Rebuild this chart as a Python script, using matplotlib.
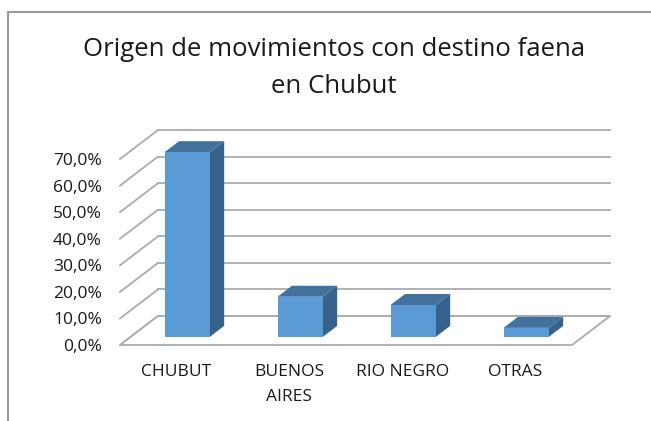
import matplotlib
matplotlib.use("Agg")
import matplotlib.pyplot as plt
from matplotlib.patches import Rectangle, Polygon
from matplotlib.lines import Line2D
from matplotlib.ticker import FuncFormatter

categories = ["CHUBUT", "BUENOS\nAIRES", "RIO NEGRO", "OTRAS"]
shares = [69.5, 15.1, 12.0, 3.4]  # percent
y_ticks = [0, 10, 20, 30, 40, 50, 60, 70]
title_lines = ["Origen de movimientos con destino faena", "en Chubut"]

plt.rcParams['font.family'] = ['Open Sans', 'DejaVu Sans']

W, H = 651, 421
fig = plt.figure(figsize=(W / 100, H / 100), dpi=100)

# chart frame (Excel-like), only top and left edges visible
fig.add_artist(Line2D([8 / W, 8 / W], [0, 1 - 12 / H], transform=fig.transFigure,
                      color="#9a9a9a", lw=1.5))
fig.add_artist(Line2D([8 / W, 1], [1 - 12 / H, 1 - 12 / H], transform=fig.transFigure,
                      color="#9a9a9a", lw=1.5))

# title, two lines placed by baseline
fig.text(334 / W, 1 - 56 / H, title_lines[0], ha="center", va="baseline",
         fontsize=18.5, color="#1a1a1a")
fig.text(334 / W, 1 - 93 / H, title_lines[1], ha="center", va="baseline",
         fontsize=18.5, color="#1a1a1a")

# axes = front face of the floor/left wall
left, right, bottom, top = 120, 572, 345, 159
ax = fig.add_axes([left / W, 1 - bottom / H, (right - left) / W, (bottom - top) / H])
ax.set_xlim(0, len(categories))
ax.set_ylim(0, 70)
for s in ax.spines.values():
    s.set_visible(False)

# oblique depth offset in data units
DX = 38 / 113
DY = 10.9
grid_c = "#ababab"
n = len(categories)

# back wall + left wall gridlines
for v in y_ticks:
    ax.plot([DX, n + DX], [v + DY, v + DY], color=grid_c, lw=1.3, clip_on=False, zorder=1)
    ax.plot([0, DX], [v, v + DY], color=grid_c, lw=1.3, clip_on=False, zorder=1)

# floor
floor = Polygon([(0, 0), (n, 0), (n + DX, DY), (DX, DY)], closed=True,
                facecolor="white", edgecolor=grid_c, lw=1.3, clip_on=False, zorder=1)
ax.add_patch(floor)

# 3D bars
w = 0.4
f0, fd = 0.28, 0.38
for i, v in enumerate(shares):
    x0 = i + 0.5 - w / 2 + f0 * DX
    y0 = f0 * DY
    ox, oy = fd * DX, fd * DY
    side = Polygon([(x0 + w, y0), (x0 + w, y0 + v), (x0 + w + ox, y0 + v + oy),
                    (x0 + w + ox, y0 + oy)], closed=True, facecolor="#36628c",
                   edgecolor="none", clip_on=False, zorder=3)
    topf = Polygon([(x0, y0 + v), (x0 + w, y0 + v), (x0 + w + ox, y0 + v + oy),
                    (x0 + ox, y0 + v + oy)], closed=True, facecolor="#41719c",
                   edgecolor="none", clip_on=False, zorder=3)
    front = Rectangle((x0, y0), w, v, facecolor="#5b9bd5", edgecolor="none",
                      clip_on=False, zorder=4)
    ax.add_patch(side)
    ax.add_patch(topf)
    ax.add_patch(front)

ax.set_yticks(y_ticks)
ax.yaxis.set_major_formatter(FuncFormatter(lambda v, p: f"{v:.1f}%".replace(".", ",")))
ax.set_xticks([i + 0.5 for i in range(n)])
ax.set_xticklabels(categories, linespacing=1.7)
ax.tick_params(axis="y", length=0, pad=13, labelsize=12.5, labelcolor="#1a1a1a")
ax.tick_params(axis="x", length=0, pad=14, labelsize=12.5, labelcolor="#1a1a1a")
for lab in ax.get_yticklabels():
    lab.set_verticalalignment("center_baseline")
for lab in ax.get_xticklabels():
    lab.set_verticalalignment("top")

fig.savefig("out.png", dpi=100)
